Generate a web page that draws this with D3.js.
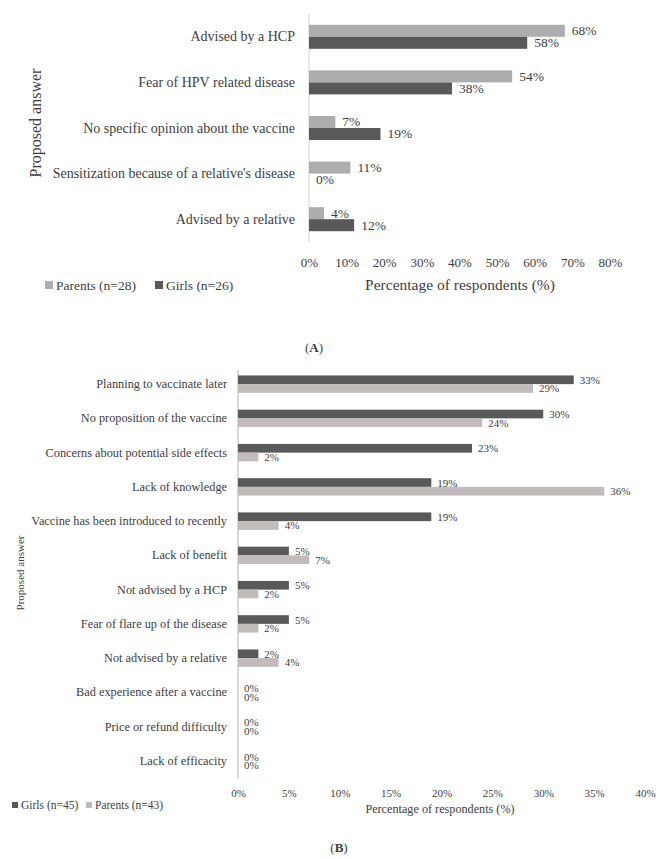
<!DOCTYPE html>
<html><head><meta charset="utf-8">
<script src="https://cdn.jsdelivr.net/npm/d3@7"></script>
<style>
body{margin:0;background:#fff;}
svg text{font-family:"Liberation Serif","Times New Roman",serif;fill:#404040;}
</style></head>
<body><svg id="c" width="664" height="859"></svg>
<script>
// Chart A data
const catsA = ["Advised by a HCP","Fear of HPV related disease","No specific opinion about the vaccine","Sensitization because of a relative's disease","Advised by a relative"];
const parentsA = [68,54,7,11,4];
const girlsA = [58,38,19,0,12];
const ticksA = [0,10,20,30,40,50,60,70,80];
const seriesA = ["Parents (n=28)","Girls (n=26)"];
// Chart B data
const catsB = ["Planning to vaccinate later","No proposition of the vaccine","Concerns about potential side effects","Lack of knowledge","Vaccine has been introduced to recently","Lack of benefit","Not advised by a HCP","Fear of flare up of the disease","Not advised by a relative","Bad experience after a vaccine","Price or refund difficulty","Lack of efficacity"];
const girlsB = [33,30,23,19,19,5,5,5,2,0,0,0];
const parentsB = [29,24,2,36,4,7,2,2,4,0,0,0];
const ticksB = [0,5,10,15,20,25,30,35,40];
const seriesB = ["Girls (n=45)","Parents (n=43)"];

const svg = d3.select("#c");

function drawChart(o){
  const g = svg.append("g");
  const x = d3.scaleLinear().domain([0,o.max]).range([o.x0,o.x1]);
  const y0 = d3.scaleBand().domain(o.cats).range([o.yTop,o.yBot]);
  const y1 = d3.scaleBand().domain(o.series).range([0,y0.bandwidth()]).paddingOuter(o.pad);
  // axis line
  g.append("line").attr("x1",o.x0).attr("x2",o.x0).attr("y1",o.lineTop).attr("y2",o.yBot)
    .attr("stroke",o.axisColor).attr("stroke-width",o.axisW);
  const rows = o.cats.map((c,i)=>({c, vals:o.values.map(v=>v[i])}));
  const grp = g.selectAll("g.row").data(rows).join("g").attr("transform",d=>`translate(0,${y0(d.c)})`);
  grp.selectAll("rect").data(d=>d.vals.map((v,j)=>({v,s:o.series[j],j}))).join("rect")
    .attr("x",o.x0).attr("y",d=>y1(d.s)).attr("width",d=>x(d.v)-o.x0).attr("height",y1.bandwidth())
    .attr("fill",d=>o.colors[d.j]);
  grp.selectAll("text.val").data(d=>d.vals.map((v,j)=>({v,s:o.series[j],j}))).join("text")
    .attr("class","val").attr("x",d=>x(d.v)+o.labOff).attr("y",d=>y1(d.s)+y1.bandwidth()/2)
    .attr("dominant-baseline","central").style("font-size",o.valFs+"px").text(d=>d.v+"%");
  // category labels
  g.selectAll("text.cat").data(o.cats).join("text").attr("class","cat")
    .attr("x",o.x0-o.catOff).attr("y",d=>y0(d)+y0.bandwidth()/2).attr("text-anchor","end")
    .attr("dominant-baseline","central").style("font-size",o.catFs+"px").text(d=>d);
  // x axis
  const ax = g.append("g").attr("transform",`translate(0,${o.tickY})`)
    .call(d3.axisBottom(x).tickValues(o.ticks).tickSize(0).tickPadding(0).tickFormat(d=>d+"%"));
  ax.select(".domain").remove();
  ax.selectAll("text").attr("dy",null).attr("dominant-baseline","central")
    .style("font-size",o.tickFs+"px").attr("fill","#404040");
  g.append("text").attr("x",o.titleX).attr("y",o.titleY).attr("text-anchor","middle")
    .attr("dominant-baseline","central").style("font-size",o.titleFs+"px").text("Percentage of respondents (%)");
  g.append("text").attr("transform",`translate(${o.yTitleX},${o.yTitleY}) rotate(-90)`)
    .attr("text-anchor","middle").attr("dominant-baseline","central").style("font-size",o.yTitleFs+"px").text("Proposed answer");
  // legend
  const lg = g.selectAll("g.leg").data(o.series).join("g").attr("transform",(d,i)=>`translate(${o.legX[i]},${o.legY})`);
  lg.append("rect").attr("x",0).attr("y",-o.legSq/2).attr("width",o.legSq).attr("height",o.legSq).attr("fill",(d,i)=>o.colors[i]);
  lg.append("text").attr("x",o.legSq+3).attr("y",0).attr("dominant-baseline","central").style("font-size",o.legFs+"px").text(d=>d);
}

drawChart({cats:catsA, series:seriesA, values:[parentsA,girlsA], colors:["#adadad","#595959"], max:80,
  x0:309, x1:610, yTop:14, yBot:242, lineTop:14, pad:0.9, axisColor:"#d9d9d9", axisW:1.2,
  labOff:7, valFs:13.5, catOff:14, catFs:14, ticks:ticksA, tickY:262, tickFs:13,
  titleX:460, titleY:284, titleFs:15.5, yTitleX:35, yTitleY:123, yTitleFs:16,
  legX:[45,155], legY:285, legSq:8, legFs:13.5});

drawChart({cats:catsB, series:seriesB, values:[girlsB,parentsB], colors:["#595959","#c1bcbc"], max:40,
  x0:238, x1:645, yTop:367, yBot:778, lineTop:370, pad:0.97, axisColor:"#d9d9d9", axisW:2,
  labOff:6, valFs:11, catOff:11, catFs:12.3, ticks:ticksB, tickY:793, tickFs:11,
  titleX:440, titleY:809, titleFs:12.2, yTitleX:20, yTitleY:573, yTitleFs:11,
  legX:[12,86], legY:805, legSq:6, legFs:11.5});

// panel labels
function panel(t,x,y){
  const tx = svg.append("text").attr("x",x).attr("y",y).attr("text-anchor","middle")
    .attr("dominant-baseline","central").style("font-size","13px").attr("fill","#222");
  tx.append("tspan").text("(");
  tx.append("tspan").attr("font-weight","bold").text(t);
  tx.append("tspan").text(")");
}
panel("A",314,347);
panel("B",339,847);
</script></body></html>
